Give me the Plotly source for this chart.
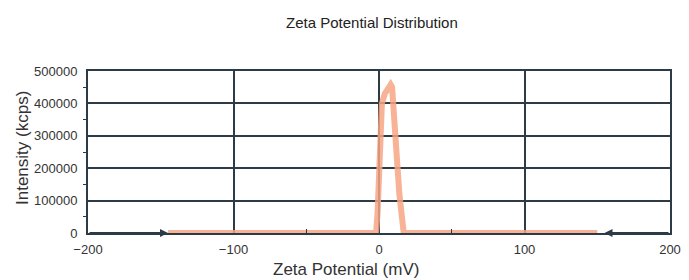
import plotly.graph_objects as go

zeta_mv = [-145, -2, -1, 0, 2, 4, 6, 8, 9, 10, 12, 14, 16, 17, 150]
intensity = [0, 0, 60000, 150000, 400000, 430000, 445000, 458000, 450000, 400000, 250000, 120000, 20000, 0, 0]

x_ticks = [-200, -100, 0, 100, 200]
y_ticks = [0, 100000, 200000, 300000, 400000, 500000]

grid = "#2c3b46"
font = "Liberation Sans, Arial, sans-serif"
txt = "#333333"

L, R, T, B, W, H = 88, 19, 71, 47, 689, 280
PW, PH = W - L - R, H - T - B

fig = go.Figure()
fig.add_trace(go.Scatter(
    x=zeta_mv, y=intensity, mode="lines",
    line=dict(color="rgba(247,165,130,0.85)", width=6),
    cliponaxis=False, showlegend=False,
))

fig.add_annotation(x=-145, y=0, ax=-200, ay=0, xref="x", yref="y", axref="x", ayref="y",
                   showarrow=True, arrowhead=2, arrowsize=0.8, arrowwidth=2, arrowcolor=grid, text="")
fig.add_annotation(x=155, y=0, ax=200, ay=0, xref="x", yref="y", axref="x", ayref="y",
                   showarrow=True, arrowhead=2, arrowsize=0.8, arrowwidth=2, arrowcolor=grid, text="")

fig.add_annotation(text="Zeta Potential Distribution", xref="paper", yref="paper",
                   x=(372 - L) / PW, y=1 + (T - 22) / PH,
                   xanchor="center", yanchor="middle", showarrow=False,
                   font=dict(size=15, color="#222222", family=font))
fig.add_annotation(text="Zeta Potential (mV)", xref="paper", yref="paper",
                   x=(346 - L) / PW, y=-(269 - (T + PH)) / PH,
                   xanchor="center", yanchor="middle", showarrow=False,
                   font=dict(size=17, color=txt, family=font))
fig.add_annotation(text="Intensity (kcps)", xref="paper", yref="paper",
                   x=-(L - 22) / PW, y=1 - (148 - T) / PH, textangle=-90,
                   xanchor="center", yanchor="middle", showarrow=False,
                   font=dict(size=17, color=txt, family=font))

fig.update_layout(
    width=W, height=H,
    margin=dict(l=L, r=R, t=T, b=B),
    paper_bgcolor="white", plot_bgcolor="white",
    font=dict(family=font, color=txt),
)

fig.update_xaxes(
    range=[-200, 200], tickvals=x_ticks, showgrid=True, gridcolor=grid, gridwidth=2,
    showline=True, linecolor=grid, linewidth=2, mirror=True, zeroline=False,
    ticks="", tickfont=dict(size=13, color=txt), ticklabelstandoff=3, automargin=False,
    minor=dict(tickvals=[-50, 50], ticks="inside", ticklen=4, tickcolor=grid, showgrid=False),
)
fig.update_yaxes(
    range=[0, 500000], tickvals=y_ticks, showgrid=True, gridcolor=grid, gridwidth=2,
    showline=True, linecolor=grid, linewidth=2, mirror=True, zeroline=False,
    ticks="", tickformat="d", tickfont=dict(size=13, color=txt), ticklabelstandoff=6, automargin=False,
    minor=dict(tickvals=[50000, 150000, 250000, 350000, 450000], ticks="outside", ticklen=3, tickcolor=grid, showgrid=False),
)

fig.write_html("out.html", config={"displayModeBar": False},
               post_script="document.body.style.margin='0';document.body.style.padding='0';")
